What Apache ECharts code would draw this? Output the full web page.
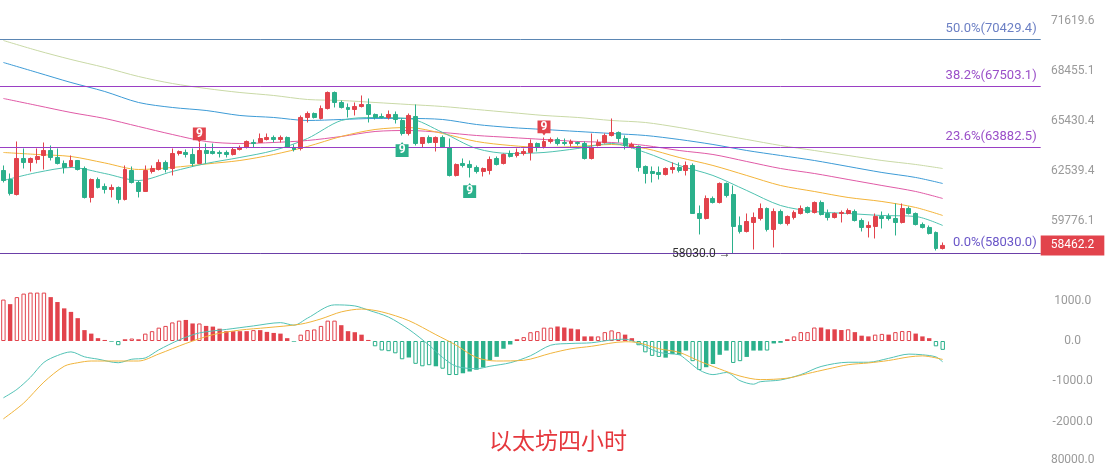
<!DOCTYPE html>
<html>
<head>
<meta charset="utf-8">
<title>以太坊四小时</title>
<script src="https://cdn.jsdelivr.net/npm/echarts@6/dist/echarts.min.js"></script>
<style>
  html, body { margin: 0; padding: 0; background: #fff; }
  #main { width: 1105px; height: 466px; }
</style>
</head>
<body>
<div id="main"></div>
<script>
// candles: [open, close, low, high]
const ohlc = [
  [62553,61991,61880,62837],[62047,61268,61158,62384],[61213,63234,61158,64212],[63234,63007,62666,63808],
  [63007,63234,62497,63292],[63177,63349,62950,63808],[63406,63692,62610,64154],[63692,63292,63120,63981],
  [63292,62950,62893,63808],[62950,62723,62384,63120],[62780,63120,62723,63406],[63120,62610,62553,63150],
  [62666,61048,60993,62780],[61048,62047,60773,62103],[62047,61601,61545,62160],[61657,61490,61268,61824],
  [61490,61601,61048,61768],[61601,60937,60718,61657],[60937,62610,60882,62837],[62553,61880,61824,62780],
  [61880,61379,61048,61991],[61379,62553,61379,62837],[62497,62666,62384,62837],[62610,63007,62553,63177],
  [63007,62610,62441,63120],[62666,63520,62272,63808],[63520,63635,63406,63692],[63578,63463,63292,63750],
  [63463,62950,62780,63808],[62950,63692,62950,64154],[63692,63520,62950,64096],[63635,63520,63463,64096],
  [63578,63520,63292,63692],[63578,63463,63292,63692],[63463,63750,63406,63865],[63750,63865,63692,63981],
  [63865,64212,63808,64270],[64154,64096,63865,64328],[64154,64386,64154,64677],[64328,64445,64270,64677],
  [64445,64328,64154,64561],[64328,64445,64154,64561],[64445,63865,63865,64503],[63865,63750,63635,64039],
  [63808,65618,63692,65737],[65618,65855,65322,65974],[65855,65618,65559,65914],[65559,66153,65499,66332],
  [66153,67115,66093,67175],[67115,66512,66213,67175],[66512,66213,66153,66632],[66213,66093,65618,66452],
  [66093,66272,65737,66512],[66272,66392,66213,66934],[66392,65796,65322,66753],[65796,65618,65499,65855],
  [65677,65618,65559,65855],[65618,65796,65499,66033],[65796,65499,65262,65974],[65440,64677,64561,65559],
  [64677,65737,64561,65855],[65677,64096,63981,66392],[64096,64445,63865,64445],[64445,64154,64096,64561],
  [64154,64445,63635,64503],[64445,63865,63865,64561],[63865,62272,62216,64386],[62272,62893,62216,62950],
  [62950,62837,62723,63234],[62893,62723,62160,63120],[62723,62497,62384,62837],[62497,62666,62216,62723],
  [62553,63177,62328,63349],[63234,62893,62837,63349],[62950,63463,62893,63520],[63520,63349,63292,63692],
  [63406,63578,63292,63808],[63520,63635,63406,63808],[63578,64096,63120,64328],[64096,63865,63635,64154],
  [63923,64212,63808,64445],[64212,64328,64096,64445],[64328,64096,63981,64445],[64154,64096,63981,64386],
  [64096,64212,63923,64328],[64154,64096,63981,64212],[64096,63234,63177,64212],[63234,63865,63177,64677],
  [63981,64154,63923,64328],[64154,64561,64096,64677],[64561,64736,64503,65559],[64736,64386,64154,64794],
  [64386,63981,63750,64561],[63865,64039,63808,64154],[63923,62723,62497,63981],[62780,62384,61824,62837],
  [62497,62384,61880,62780],[62441,62328,62047,62780],[62328,62666,62272,62723],[62610,62723,62384,63007],
  [62723,62553,62441,63007],[62553,62837,62272,63063],[62837,60172,60172,62950],[60172,59901,59043,60608],
  [59901,60993,59847,61158],[60993,60773,60718,61103],[60773,61824,60718,61880],[61824,61158,61048,61880],
  [61213,59471,58030,61712],[59525,59203,59096,60010],[59203,59739,59150,60172],[59686,59956,58249,60226],
  [59901,60444,59793,60718],[60444,59310,59203,60499],[59310,60281,58354,60444],[60281,59632,59578,60389],
  [59632,60010,59525,60064],[59956,60226,59847,60335],[60172,60444,60118,60608],[60499,60226,60172,60554],
  [60226,60773,60172,60827],[60773,60118,60064,60882],[60172,59956,59793,60389],[59956,60172,59901,60226],
  [60172,60226,59686,60335],[60172,60335,60118,60444],[60281,59793,59739,60389],[59793,59418,59203,59901],
  [59418,59525,58884,59739],[59471,60010,58830,60172],[60010,59901,59364,60281],[60010,59901,59793,60172],
  [59901,59686,58990,60718],[59686,60444,59632,60718],[60444,60172,60118,60554],[60172,59578,59525,60226],
  [59578,59418,59364,59686],[59418,59096,59043,59525],[59150,58302,58196,59203],[58302,58462.2,58249,58618]
];

// moving averages: [bar number, price]
const maTeal = [[1,61991],[6,62441],[11,62723],[16,62384],[21,61991],[26,62497],[31,62950],[36,63292],[41,63692],[46,64386],[51,65440],[56,65618],[61,65559],[66,64736],[71,63808],[76,63520],[81,63578],[86,63808],[91,64096],[96,63578],[101,62837],[106,62272],[111,61434],[116,60608],[121,60281],[126,60172],[131,60064],[136,60010],[140,59525]];
const maOrange = [[1,63578],[6,63463],[11,63349],[16,62980],[21,62610],[26,62723],[31,62920],[36,63120],[41,63463],[46,63923],[51,64503],[56,64911],[61,65028],[66,64677],[71,64212],[76,63981],[81,63865],[86,63923],[91,64039],[96,63808],[101,63292],[106,62837],[111,62272],[116,61712],[121,61379],[126,61048],[131,60827],[136,60499],[140,60064]];
const maPink = [[1,66753],[6,66332],[11,65914],[16,65559],[21,65087],[26,64619],[31,64212],[36,64096],[41,64154],[46,64270],[51,64503],[56,64794],[61,64852],[66,64736],[71,64561],[76,64445],[81,64328],[86,64212],[91,64154],[96,63981],[101,63692],[106,63463],[111,63063],[116,62666],[121,62384],[126,62047],[131,61712],[136,61379],[140,60993]];
const maBlue = [[1,68957],[6,68337],[11,67723],[16,67175],[21,66512],[26,66213],[31,66033],[36,65737],[41,65618],[46,65440],[51,65499],[56,65559],[61,65559],[66,65499],[71,65205],[76,65028],[81,64911],[86,64794],[91,64677],[96,64561],[101,64328],[106,64039],[111,63692],[116,63406],[121,63120],[126,62780],[131,62441],[136,62160],[140,61824]];
const maKhaki = [[1,70339],[6,69707],[11,69144],[16,68646],[21,68091],[26,67662],[31,67358],[36,67115],[41,66934],[46,66692],[51,66632],[56,66512],[61,66392],[66,66272],[71,66093],[76,65914],[81,65737],[86,65618],[91,65440],[96,65322],[101,65028],[106,64677],[111,64328],[116,63981],[121,63692],[126,63406],[131,63120],[136,62893],[140,62666]];

const fibLevels = [
  { pct: '50.0%', value: 70429.4 },
  { pct: '38.2%', value: 67503.1 },
  { pct: '23.6%', value: 63882.5 },
  { pct: '0.0%', value: 58030.0 }
];
const priceTicks = [59776.1, 62539.4, 65430.4, 68455.1, 71619.6];
const lastPrice = 58462.2;
const lowMark = { bar: 109, value: 58030.0 };
// TD "9" signals: bar number, price at the marker, above (sell) or below (buy)
const tdMarks = [
  { bar: 30, value: 64590, above: true },
  { bar: 81, value: 65000, above: true },
  { bar: 60, value: 63750, above: false },
  { bar: 70, value: 61434, above: false }
];

// MACD histogram, 1 = hollow bar
const macdHist = [
  1027,914,1088,1175,1200,1200,1200,1088,966,809,
  722,566,270,183,70,26,-17,-104,43,61,
  43,183,244,331,374,461,505,522,435,435,
  374,357,305,244,244,244,244,270,270,226,
  200,183,70,-17,157,270,287,374,505,505,
  392,244,218,157,26,-131,-235,-252,-305,-453,
  -409,-566,-627,-600,-627,-687,-844,-844,-800,-757,
  -713,-653,-479,-392,-192,-87,43,96,218,244,
  331,331,360,334,307,290,114,114,114,220,
  263,220,158,70,-105,-281,-369,-395,-413,-325,
  -342,-237,-500,-720,-650,-571,-342,-237,-544,-500,
  -395,-237,-237,-237,-61,-44,44,114,220,220,
  334,334,290,290,272,290,220,132,114,158,
  176,158,220,246,246,184,114,70,-132,-220
];
const macdHollow = [
  1,0,1,1,1,1,1,0,0,0, 0,0,0,0,0,0,0,1,0,1,
  0,1,1,1,1,1,1,0,0,1, 0,0,0,0,0,0,0,1,0,0,
  0,0,0,0,1,1,1,1,1,1, 0,0,0,0,0,1,1,1,1,1,
  0,1,1,1,0,1,1,1,0,0, 0,0,0,0,0,0,0,1,1,1,
  1,1,0,0,0,0,0,0,1,1, 1,1,0,0,1,1,1,1,0,0,
  0,0,1,1,0,0,0,0,1,1, 0,0,0,1,0,0,0,1,1,1,
  1,0,0,0,0,1,0,0,0,1, 1,0,1,1,1,0,0,0,1,1
];
const dif = [[1,-1409],[3,-1200],[5,-900],[7,-530],[9,-360],[11,-270],[13,-392],[15,-450],[18,-539],[20,-452],[22,-420],[24,-220],[27,26],[30,200],[34,287],[38,374],[42,455],[44,392],[46,566],[50,896],[53,870],[55,766],[58,592],[61,287],[64,-104],[66,-409],[68,-626],[71,-687],[73,-626],[76,-539],[79,-365],[82,-104],[85,-61],[88,-44],[91,26],[93,44],[95,-61],[98,-281],[101,-342],[102,-457],[104,-720],[106,-834],[108,-781],[110,-983],[112,-1071],[113,-1010],[116,-966],[119,-834],[122,-632],[126,-527],[129,-527],[132,-430],[135,-325],[137,-342],[139,-395],[140,-518]];
const dea = [[1,-1931],[4,-1540],[7,-1018],[10,-626],[12,-539],[14,-496],[18,-496],[21,-496],[24,-322],[28,-61],[32,157],[36,270],[40,331],[45,418],[48,548],[51,722],[54,792],[57,722],[61,505],[65,157],[68,-104],[71,-409],[74,-496],[78,-478],[82,-305],[85,-193],[88,-132],[93,-18],[95,-44],[98,-193],[101,-281],[104,-500],[107,-694],[110,-869],[113,-957],[117,-922],[120,-808],[123,-694],[126,-588],[129,-544],[132,-483],[135,-395],[137,-369],[140,-457]];
const volTicks = [0, 80000];

const SLOTS = 154; // chart leaves empty room right of the last candle
const cats = Array.from({ length: SLOTS }, (_, i) => String(i + 1));

const UP = '#e2434c', DOWN = '#2bb08b';
const fibLine = ['#5b86b3', '#9a3fc4', '#9a3fc4', '#6b3fa8'];
const fibText = ['#6b7fc4', '#9a4fc8', '#9a4fc8', '#6a56c8'];
const axisText = { color: '#9a9a9a', fontSize: 12, fontFamily: 'Roboto', align: 'center', margin: 32 };
const gridX = { left: -4.5, right: 64.3 };

const toPts = arr => arr.map(([n, v]) => [n - 1, v]);
const line = (pts, color, xi) => ({
  type: 'line', data: toPts(pts), xAxisIndex: xi, yAxisIndex: xi,
  smooth: 0.3, symbol: 'none', silent: true, z: 2,
  lineStyle: { width: 1, color }
});

const redTag = 'path://M0,0H12V12H7.5L6,14L4.5,12H0Z';
const greenTag = 'path://M0,2H4.5L6,0L7.5,2H12V14H0Z';

const chart = echarts.init(document.getElementById('main'), null, { renderer: 'canvas' });
chart.setOption({
  animation: false,
  textStyle: { fontFamily: 'Roboto' },
  title: {
    text: '以太坊四小时', left: 484, top: 424,
    textStyle: { color: '#e5373d', fontSize: 23, fontWeight: 'normal', fontFamily: 'Noto Sans CJK SC' }
  },
  grid: [
    Object.assign({ top: 0, height: 275 }, gridX),
    Object.assign({ top: 280.5, height: 181.5 }, gridX),
    Object.assign({ top: 460, height: 200 }, gridX)
  ],
  xAxis: [0, 1, 2].map(i => ({ type: 'category', data: cats, gridIndex: i, show: false, boundaryGap: true })),
  yAxis: [
    {
      type: 'log', gridIndex: 0, position: 'right', min: 56923, max: 72957,
      axisLine: { show: false }, axisTick: { show: false }, splitLine: { show: false },
      axisLabel: Object.assign({ customValues: priceTicks, formatter: v => Number(v).toFixed(1) }, axisText)
    },
    {
      type: 'value', gridIndex: 1, position: 'right', min: -3000, max: 1500, interval: 1000,
      axisLine: { show: false }, axisTick: { show: false }, splitLine: { show: false },
      axisLabel: Object.assign({ formatter: v => (v % 1000 === 0 && v > -3000) ? v.toFixed(1) : '' }, axisText)
    },
    {
      type: 'value', gridIndex: 2, position: 'right', min: volTicks[0], max: volTicks[1], interval: volTicks[1],
      axisLine: { show: false }, axisTick: { show: false }, splitLine: { show: false },
      axisLabel: Object.assign({ formatter: v => v.toFixed(1) }, axisText)
    }
  ],
  series: [
    line(maKhaki, '#c9d9a6', 0),
    line(maBlue, '#3d9bd6', 0),
    line(maPink, '#e05aa6', 0),
    line(maOrange, '#f3b43a', 0),
    line(maTeal, '#4fc2b0', 0),
    {
      type: 'candlestick', data: ohlc, xAxisIndex: 0, yAxisIndex: 0, barWidth: 4.4, z: 3,
      itemStyle: { color: UP, color0: DOWN, borderColor: UP, borderColor0: DOWN, borderWidth: 1 },
      markLine: {
        symbol: ['none', 'none'], silent: true, animation: false,
        data: fibLevels.map((f, k) => ({
          yAxis: f.value,
          lineStyle: { color: fibLine[k], width: 1, type: 'solid' },
          label: {
            show: true, position: 'insideEndTop', distance: 4,
            formatter: f.pct + '(' + f.value.toFixed(1) + ')',
            color: fibText[k], fontSize: 13
          }
        })).concat([{
          yAxis: lastPrice,
          lineStyle: { color: 'transparent', width: 1 },
          label: {
            show: true, position: 'end', distance: 0,
            formatter: lastPrice.toFixed(1),
            color: '#fff', backgroundColor: UP, padding: [4, 10, 4, 10], fontSize: 12
          }
        }])
      },
      markPoint: {
        silent: true, animation: false,
        data: tdMarks.map(m => ({
          coord: [m.bar - 1, m.value],
          symbol: m.above ? redTag : greenTag,
          symbolSize: [13, 15],
          itemStyle: { color: m.above ? UP : DOWN },
          label: { show: true, formatter: '9', color: '#fff', fontSize: 12, fontWeight: 'bold', offset: [0, m.above ? -1 : 1] }
        })).concat([{
          coord: [lowMark.bar - 1, lowMark.value],
          symbol: 'circle', symbolSize: 1,
          itemStyle: { color: 'transparent' },
          label: { show: true, position: 'left', distance: 2, formatter: lowMark.value.toFixed(1) + ' →', color: '#333', fontSize: 12 }
        }])
      }
    },
    {
      type: 'bar', xAxisIndex: 1, yAxisIndex: 1, barWidth: 4.4, z: 1,
      data: macdHist.map((v, i) => ({
        value: v,
        itemStyle: macdHollow[i]
          ? { color: '#fff', borderColor: v >= 0 ? UP : DOWN, borderWidth: 1 }
          : { color: v >= 0 ? UP : DOWN }
      }))
    },
    line(dif, '#52c2b5', 1),
    line(dea, '#f0b43c', 1)
  ]
});
</script>
</body>
</html>
